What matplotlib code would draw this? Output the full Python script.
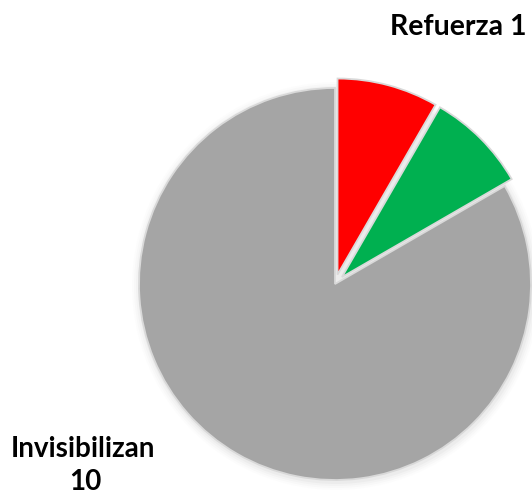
import matplotlib
matplotlib.use("Agg")
from matplotlib import pyplot as plt

# data
categories = ["Refuerza", "Neutro", "Invisibilizan"]
values = [1, 1, 10]
colors = ["#FF0000", "#00B050", "#A5A5A5"]
explode = [0.05, 0.05, 0.0]

W, H = 532, 498
fig = plt.figure(figsize=(W / 100, H / 100), dpi=100)
ax = fig.add_axes([0, 0, 1, 1])

cx, cy, r = 335, H - 284, 196

# soft shadow around the pie
for k, a in enumerate([0.05, 0.04, 0.03, 0.02]):
    ax.pie([1], radius=r + 2 + 2 * k, center=(cx + 1, cy - 2), colors=["#888888"],
           wedgeprops=dict(alpha=a, linewidth=0), frame=True)

# explode offset in axis units (pixels here)
wedges, _ = ax.pie(values, colors=colors, startangle=90, counterclock=False,
                   explode=[e * r for e in explode], radius=r, center=(cx, cy), frame=True,
                   wedgeprops=dict(edgecolor="#D9D9D9", linewidth=1.3))
ax.set_xlim(0, W)
ax.set_ylim(0, H)
ax.set_aspect("equal")
ax.axis("off")

font = ["Lato", "DejaVu Sans"]
ax.text(458, H - 35, f"{categories[0]} {values[0]}", ha="center", va="baseline",
        fontsize=20.5, fontweight="bold", family=font)
ax.text(83, H - 457, categories[2], ha="center", va="baseline",
        fontsize=20, fontweight="bold", family=font)
ax.text(85, H - 490, str(values[2]), ha="center", va="baseline",
        fontsize=20, fontweight="bold", family=font)

fig.savefig("out.png", dpi=100)
